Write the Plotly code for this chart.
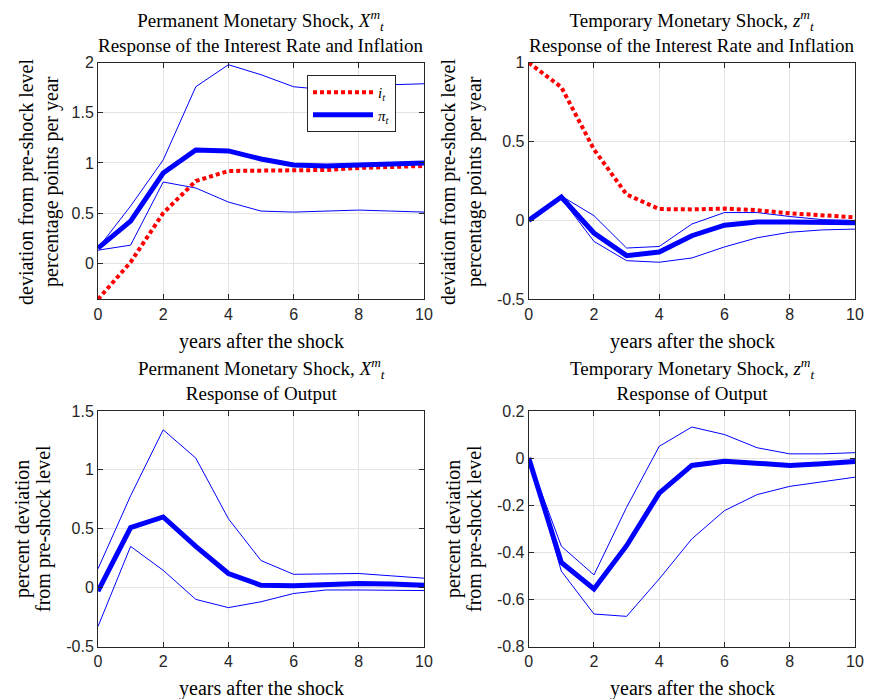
import plotly.graph_objects as go

years = list(range(11))

# Panel 1: permanent shock, interest rate & inflation
p1_i = [-0.36, 0.01, 0.50, 0.82, 0.92, 0.92, 0.92, 0.93, 0.95, 0.96, 0.97]
p1_pi = [0.15, 0.42, 0.90, 1.13, 1.12, 1.04, 0.98, 0.97, 0.98, 0.99, 1.00]
p1_up = [0.15, 0.57, 1.03, 1.76, 1.98, 1.88, 1.76, 1.73, 1.76, 1.78, 1.79]
p1_lo = [0.13, 0.18, 0.81, 0.75, 0.61, 0.52, 0.51, 0.52, 0.53, 0.52, 0.51]

# Panel 2: temporary shock, interest rate & inflation
p2_i = [1.00, 0.845, 0.45, 0.165, 0.072, 0.07, 0.075, 0.065, 0.045, 0.03, 0.02]
p2_pi = [0.0, 0.148, -0.08, -0.223, -0.20, -0.097, -0.03, -0.01, -0.01, -0.015, -0.015]
p2_up = [0.0, 0.155, 0.03, -0.175, -0.165, -0.023, 0.05, 0.05, 0.025, 0.005, 0.0]
p2_lo = [0.0, 0.14, -0.133, -0.255, -0.265, -0.238, -0.168, -0.11, -0.075, -0.06, -0.055]

# Panel 3: permanent shock, output
p3_y = [-0.03, 0.51, 0.60, 0.35, 0.12, 0.02, 0.015, 0.03, 0.035, 0.03, 0.02]
p3_up = [0.16, 0.78, 1.34, 1.10, 0.585, 0.23, 0.113, 0.115, 0.12, 0.10, 0.08]
p3_lo = [-0.33, 0.35, 0.147, -0.10, -0.17, -0.12, -0.05, -0.02, -0.02, -0.025, -0.025]

# Panel 4: temporary shock, output
p4_y = [0.0, -0.443, -0.556, -0.372, -0.149, -0.031, -0.013, -0.024, -0.031, -0.024, -0.014]
p4_up = [0.0, -0.374, -0.496, -0.209, 0.05, 0.132, 0.10, 0.044, 0.018, 0.018, 0.023]
p4_lo = [0.0, -0.48, -0.662, -0.672, -0.513, -0.343, -0.223, -0.155, -0.12, -0.10, -0.081]

x_ticks = [0, 2, 4, 6, 8, 10]
x_ticktext = ["0", "2", "4", "6", "8", "10"]
y1_ticks = [0, 0.5, 1, 1.5, 2]
y1_text = ["0", "0.5", "1", "1.5", "2"]
y2_ticks = [-0.5, 0, 0.5, 1]
y2_text = ["-0.5", "0", "0.5", "1"]
y3_ticks = [-0.5, 0, 0.5, 1, 1.5]
y3_text = ["-0.5", "0", "0.5", "1", "1.5"]
y4_ticks = [-0.8, -0.6, -0.4, -0.2, 0, 0.2]
y4_text = ["-0.8", "-0.6", "-0.4", "-0.2", "0", "0.2"]

BLUE = "#0000FF"
RED = "#FF0000"
SERIF = "Liberation Serif, Times New Roman, serif"
SANS = "Liberation Sans, Arial, sans-serif"
FS = 20

fig = go.Figure()

def band(x, y, ax):
    fig.add_trace(go.Scatter(x=x, y=y, mode="lines", line=dict(color=BLUE, width=1),
                             xaxis=ax[0], yaxis=ax[1], showlegend=False, hoverinfo="skip"))

def add_panel(ax, up, lo, mid, irate=None, legend=False):
    band(years, up, ax)
    band(years, lo, ax)
    if irate is not None:
        fig.add_trace(go.Scatter(x=years, y=irate, mode="lines",
                                 line=dict(color=RED, width=4, dash="4px,3px"),
                                 name="<i>i</i><sub><i>t</i></sub>",
                                 xaxis=ax[0], yaxis=ax[1], showlegend=legend))
    fig.add_trace(go.Scatter(x=years, y=mid, mode="lines",
                             line=dict(color=BLUE, width=5),
                             name="<i>π</i><sub><i>t</i></sub>",
                             xaxis=ax[0], yaxis=ax[1], showlegend=legend))

add_panel(("x", "y"), p1_up, p1_lo, p1_pi, irate=p1_i, legend=True)
add_panel(("x2", "y2"), p2_up, p2_lo, p2_pi, irate=p2_i)
add_panel(("x3", "y3"), p3_up, p3_lo, p3_y)
add_panel(("x4", "y4"), p4_up, p4_lo, p4_y)

# page has an 8px body margin; figure is sized so page == 878x699
OFF = 8
W, H = 878 - OFF, 699 - OFF

def px(x):
    return (x - OFF) / W

def py(y):
    return 1 - (y - OFF) / H

left_dom = [px(98), px(424)]
right_dom = [px(528.7), px(855)]
top_dom = [py(299.3), py(62.7)]
bot_dom = [py(646.5), py(411)]

def common():
    return dict(showline=True, mirror="ticks", linecolor="#262626", linewidth=1,
                ticks="inside", ticklen=5, tickcolor="#262626",
                showgrid=True, gridcolor="#e3e3e3", gridwidth=1, zeroline=False,
                automargin=False,
                tickfont=dict(family=SANS, size=16, color="#262626"))

def xa(dom, anchor):
    d = common()
    d.update(domain=dom, anchor=anchor, range=[0, 10], tickvals=x_ticks, ticktext=x_ticktext)
    return d

def ya(dom, anchor, rng, tv, tt):
    d = common()
    d.update(domain=dom, anchor=anchor, range=rng, tickvals=tv, ticktext=tt)
    return d

fig.update_layout(
    width=W, height=H,
    margin=dict(l=0, r=0, t=0, b=0, pad=0, autoexpand=False),
    paper_bgcolor="white", plot_bgcolor="white",
    xaxis=xa(left_dom, "y"), yaxis=ya(top_dom, "x", [-0.36, 2], y1_ticks, y1_text),
    xaxis2=xa(right_dom, "y2"), yaxis2=ya(top_dom, "x2", [-0.5, 1], y2_ticks, y2_text),
    xaxis3=xa(left_dom, "y3"), yaxis3=ya(bot_dom, "x3", [-0.5, 1.5], y3_ticks, y3_text),
    xaxis4=xa(right_dom, "y4"), yaxis4=ya(bot_dom, "x4", [-0.8, 0.2], y4_ticks, y4_text),
    showlegend=True,
    legend=dict(x=px(307), y=py(75), xanchor="left", yanchor="top",
                bgcolor="white", bordercolor="#262626", borderwidth=1,
                font=dict(family=SERIF, size=15, color="black"),
                itemwidth=60, tracegroupgap=0),
)

ann = []
def text(x, y, s, size=FS, angle=0):
    ann.append(dict(x=px(x), y=py(y), xref="paper", yref="paper", text=s, showarrow=False,
                    xanchor="center", yanchor="middle", textangle=angle,
                    font=dict(family=SERIF, size=size, color="black")))

# Titles (two lines each)
text(261, 32, "Permanent Monetary Shock, <i>X</i><sup><i>m</i></sup><sub><i>t</i></sub>"
              "<br>Response of the Interest Rate and Inflation", size=19)
text(692, 32, "Temporary Monetary Shock, <i>z</i><sup><i>m</i></sup><sub><i>t</i></sub>"
              "<br>Response of the Interest Rate and Inflation", size=19)
text(261, 380, "Permanent Monetary Shock, <i>X</i><sup><i>m</i></sup><sub><i>t</i></sub>"
               "<br>Response of Output", size=19)
text(692, 380, "Temporary Monetary Shock, <i>z</i><sup><i>m</i></sup><sub><i>t</i></sub>"
               "<br>Response of Output", size=19)

# x labels
for cx in (261, 692):
    text(cx, 342, "years after the shock")
    text(cx, 688, "years after the shock")

# y labels
text(27, 182, "deviation from pre-shock level", angle=-90)
text(52, 182, "percentage points per year", angle=-90)
text(449, 182, "deviation from pre-shock level", angle=-90)
text(475, 182, "percentage points per year", angle=-90)
text(22, 529, "percent deviation", angle=-90)
text(43, 529, "from pre-shock level", angle=-90)
text(453, 529, "percent deviation", angle=-90)
text(474, 529, "from pre-shock level", angle=-90)

fig.update_layout(annotations=ann)
fig.write_html("out.html")
